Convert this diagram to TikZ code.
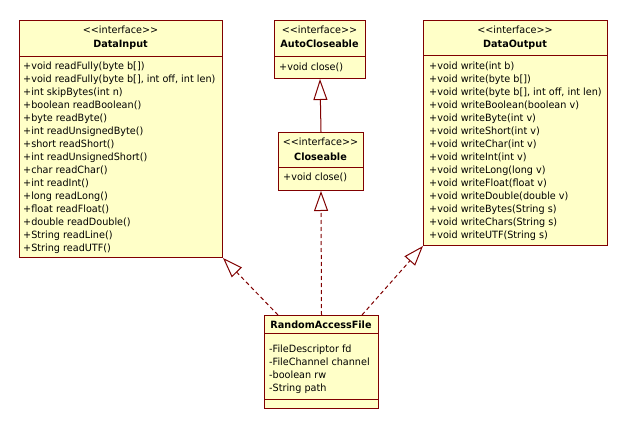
\documentclass[tikz,border=0pt]{standalone}
\usepackage{fontspec}
\setmainfont[FakeStretch=0.965]{DejaVu Sans}
\usetikzlibrary{arrows.meta}
\definecolor{umlfill}{HTML}{FFFFC8}
\definecolor{umlline}{HTML}{800000}
\newcommand{\umlfs}{\fontsize{10pt}{13pt}\selectfont}
\newcommand{\stereo}{<{}<interface>{}>}
\tikzset{
  cls/.style={draw=umlline, fill=umlfill, line width=1pt, inner sep=0pt, anchor=north west},
  sepline/.style={draw=umlline, line width=1pt},
  mem/.style={anchor=base west, inner sep=0pt, font=\umlfs},
  hdr/.style={anchor=base, inner sep=0pt, font=\umlfs},
  hdrb/.style={anchor=base, inner sep=0pt, font=\umlfs\bfseries},
  realize/.style={draw=umlline, line width=1pt, dash pattern=on 4pt off 3pt,
     -{Triangle[open, length=20pt, width=14pt, fill=white, line width=1pt]}},
  general/.style={draw=umlline, line width=1pt,
     -{Triangle[open, length=21pt, width=14pt, fill=white, line width=1pt]}}
}
\begin{document}
\begin{tikzpicture}[x=1pt, y=-1pt]
\useasboundingbox[fill=white] (0,0) rectangle (626,430);

% DataInput
\node[cls, minimum width=203pt, minimum height=237pt] (di) at (19,20) {};
\draw[sepline] (19,56.5) -- (222,56.5);
\node[hdr] (diS) at (120.5,34) {\stereo};
\node[hdrb] (diN) at (120.5,48) {DataInput};
\node[mem] (di1) at (23,70) {+void readFully(byte b[])};
\node[mem] (di2) at (23,83) {+void readFully(byte b[], int off, int len)};
\node[mem] (di3) at (23,96) {+int skipBytes(int n)};
\node[mem] (di4) at (23,109) {+boolean readBoolean()};
\node[mem] (di5) at (23,122) {+byte readByte()};
\node[mem] (di6) at (23,135) {+int readUnsignedByte()};
\node[mem] (di7) at (23,148) {+short readShort()};
\node[mem] (di8) at (23,161) {+int readUnsignedShort()};
\node[mem] (di9) at (23,174) {+char readChar()};
\node[mem] (di10) at (23,187) {+int readInt()};
\node[mem] (di11) at (23,200) {+long readLong()};
\node[mem] (di12) at (23,213) {+float readFloat()};
\node[mem] (di13) at (23,226) {+double readDouble()};
\node[mem] (di14) at (23,239) {+String readLine()};
\node[mem] (di15) at (23,252) {+String readUTF()};

% AutoCloseable
\node[cls, minimum width=91pt, minimum height=58pt] (ac) at (274,20) {};
\draw[sepline] (274,57) -- (365,57);
\node[hdr] (acS) at (319.5,34) {\stereo};
\node[hdrb] (acN) at (319.5,48) {AutoCloseable};
\node[mem] (ac1) at (279,71) {+void close()};

% Closeable
\node[cls, minimum width=85pt, minimum height=58pt] (cl) at (278,132) {};
\draw[sepline] (278,168) -- (363,168);
\node[hdr] (clS) at (320.5,146) {\stereo};
\node[hdrb] (clN) at (320.5,161) {Closeable};
\node[mem] (cl1) at (283,181) {+void close()};

% DataOutput
\node[cls, minimum width=184pt, minimum height=225pt] (do) at (423,20) {};
\draw[sepline] (423,55.5) -- (607,55.5);
\node[hdr] (doS) at (515,34) {\stereo};
\node[hdrb] (doN) at (515,48) {DataOutput};
\node[mem] (do1) at (429,70) {+void write(int b)};
\node[mem] (do2) at (429,83) {+void write(byte b[])};
\node[mem] (do3) at (429,96) {+void write(byte b[], int off, int len)};
\node[mem] (do4) at (429,109) {+void writeBoolean(boolean v)};
\node[mem] (do5) at (429,122) {+void writeByte(int v)};
\node[mem] (do6) at (429,135) {+void writeShort(int v)};
\node[mem] (do7) at (429,148) {+void writeChar(int v)};
\node[mem] (do8) at (429,161) {+void writeInt(int v)};
\node[mem] (do9) at (429,174) {+void writeLong(long v)};
\node[mem] (do10) at (429,187) {+void writeFloat(float v)};
\node[mem] (do11) at (429,200) {+void writeDouble(double v)};
\node[mem] (do12) at (429,213) {+void writeBytes(String s)};
\node[mem] (do13) at (429,226) {+void writeChars(String s)};
\node[mem] (do14) at (429,239) {+void writeUTF(String s)};

% RandomAccessFile
\node[cls, minimum width=114pt, minimum height=93pt] (raf) at (264,315) {};
\draw[sepline] (264,333) -- (378,333);
\draw[sepline] (264,399) -- (378,399);
\node[hdrb] (rafN) at (321,328) {RandomAccessFile};
\node[mem] (raf1) at (269,352) {-FileDescriptor fd};
\node[mem] (raf2) at (269,365) {-FileChannel channel};
\node[mem] (raf3) at (269,378) {-boolean rw};
\node[mem] (raf4) at (269,391) {-String path};

% connectors
\draw[general] (cl.north) -- (ac.south);
\draw[realize] (raf.north) -- (cl.south);
\draw[realize] ([xshift=14pt]raf.north west) -- (di.south east);
\draw[realize] ([xshift=-17pt]raf.north east) -- (do.south west);
\end{tikzpicture}
\end{document}
